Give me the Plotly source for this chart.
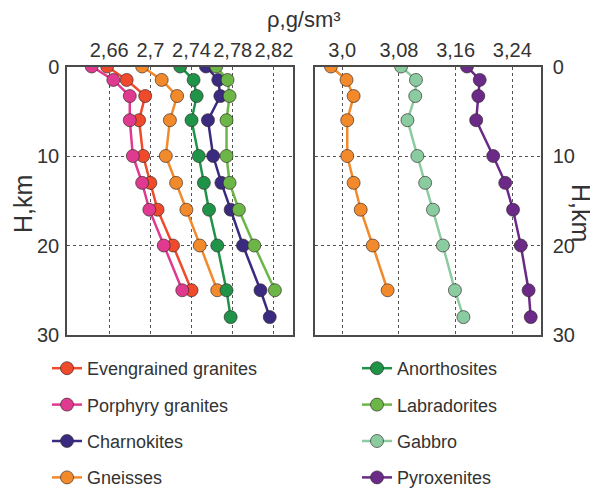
import plotly.graph_objects as go
from plotly.subplots import make_subplots

# depth levels, km
depth = [0, 1.5, 3.3, 6, 10, 13, 16, 20, 25, 28]

# left panel, density g/sm3
evengrained = [2.658, 2.677, 2.695, 2.689, 2.693, 2.700, 2.707, 2.722, 2.740]
porphyry = [2.643, 2.664, 2.680, 2.680, 2.683, 2.692, 2.699, 2.713, 2.731]
charnokites = [2.754, 2.766, 2.768, 2.756, 2.761, 2.769, 2.778, 2.790, 2.807, 2.816]
gneisses = [2.692, 2.711, 2.726, 2.719, 2.715, 2.725, 2.735, 2.748, 2.765]
anorthosites = [2.729, 2.742, 2.745, 2.740, 2.747, 2.752, 2.757, 2.765, 2.774, 2.778]
labradorites = [2.764, 2.775, 2.777, 2.774, 2.774, 2.777, 2.786, 2.801, 2.821]

# right panel
orange_right = [2.984, 3.006, 3.016, 3.007, 3.007, 3.016, 3.026, 3.043, 3.064]
gabbro = [3.083, 3.104, 3.103, 3.092, 3.106, 3.117, 3.128, 3.142, 3.159, 3.171]
pyroxenites = [3.176, 3.194, 3.192, 3.189, 3.213, 3.230, 3.241, 3.252, 3.263, 3.266]

left_ticks = [2.66, 2.70, 2.74, 2.78, 2.82]
left_labels = ["2,66", "2,7", "2,74", "2,78", "2,82"]
right_ticks = [3.00, 3.08, 3.16, 3.24]
right_labels = ["3,0", "3,08", "3,16", "3,24"]
h_ticks = [0, 10, 20, 30]

FONT = "Liberation Sans, Arial, sans-serif"

# page body has an 8px margin, so the figure is a bit smaller and shifted
W, H, OFF = 590, 482, 8

def px(x):
    return (x - OFF) / W

def py(y):
    return 1 - (y - OFF) / H

fig = make_subplots(rows=1, cols=2)

def add(x, name, color, col, legend=None, show=True):
    fig.add_trace(go.Scatter(
        x=x, y=depth[:len(x)], name=name, mode="lines+markers",
        line=dict(color=color, width=2.5),
        marker=dict(size=13, color=color, line=dict(color="rgba(50,40,40,0.65)", width=1)),
        showlegend=show, legend=legend, legendgroup=name,
    ), row=1, col=col)

add(evengrained, "Evengrained granites", "#ef4a2c", 1, "legend")
add(porphyry, "Porphyry granites", "#df3a8f", 1, "legend")
add(charnokites, "Charnokites", "#3b2b80", 1, "legend")
add(gneisses, "Gneisses", "#f28a2c", 1, "legend")
add(anorthosites, "Anorthosites", "#1f9448", 1, "legend2")
add(labradorites, "Labradorites", "#6cb648", 1, "legend2")
add(orange_right, "Gneisses (2)", "#f28a2c", 2, show=False)
add(gabbro, "Gabbro", "#8acba0", 2, "legend2")
add(pyroxenites, "Pyroxenites", "#6b2a88", 2, "legend2")

axis_style = dict(
    showline=True, mirror=True, linecolor="#4a4a4a", linewidth=1.5,
    showgrid=True, gridcolor="#555", griddash="dot", gridwidth=1,
    zeroline=False, ticks="", automargin=False,
    tickfont=dict(size=20, color="#333", family=FONT),
)

fig.update_xaxes(axis_style)
fig.update_yaxes(axis_style)

fig.update_layout(
    width=W, height=H,
    margin=dict(l=0, r=0, t=0, b=0, autoexpand=False),
    paper_bgcolor="white", plot_bgcolor="white",
    font=dict(family=FONT, color="#333"),
    xaxis=dict(domain=[px(67), px(293)], range=[2.619, 2.8386], side="top",
               tickvals=left_ticks, ticktext=left_labels, ticklabelstandoff=0),
    xaxis2=dict(domain=[px(315), px(541)], range=[2.9615, 3.2805], side="top",
                tickvals=right_ticks, ticktext=right_labels, ticklabelstandoff=0),
    yaxis=dict(domain=[py(335), py(66.5)], range=[30, 0],
               tickvals=h_ticks, side="left", ticklabelstandoff=2),
    yaxis2=dict(domain=[py(335), py(66.5)], range=[30, 0],
                tickvals=h_ticks, side="right", anchor="x2", ticklabelstandoff=6),
    legend=dict(x=px(47), y=py(350), xanchor="left", yanchor="top",
                font=dict(size=18, color="#333", family=FONT), tracegroupgap=10,
                bgcolor="rgba(0,0,0,0)"),
    legend2=dict(x=px(357), y=py(350), xanchor="left", yanchor="top",
                 font=dict(size=18, color="#333", family=FONT), tracegroupgap=10,
                 bgcolor="rgba(0,0,0,0)"),
    annotations=[
        dict(text="ρ,g/sm³", x=px(304), y=py(19), xref="paper", yref="paper",
             xanchor="center", yanchor="middle", showarrow=False,
             font=dict(size=22, color="#333", family=FONT)),
        dict(text="H,km", x=px(23), y=py(204), xref="paper", yref="paper",
             xanchor="center", yanchor="middle", showarrow=False, textangle=-90,
             font=dict(size=25, color="#333", family=FONT)),
        dict(text="H,km", x=px(581), y=py(213), xref="paper", yref="paper",
             xanchor="center", yanchor="middle", showarrow=False, textangle=90,
             font=dict(size=25, color="#333", family=FONT)),
    ],
)

fig.write_html("out.html")
